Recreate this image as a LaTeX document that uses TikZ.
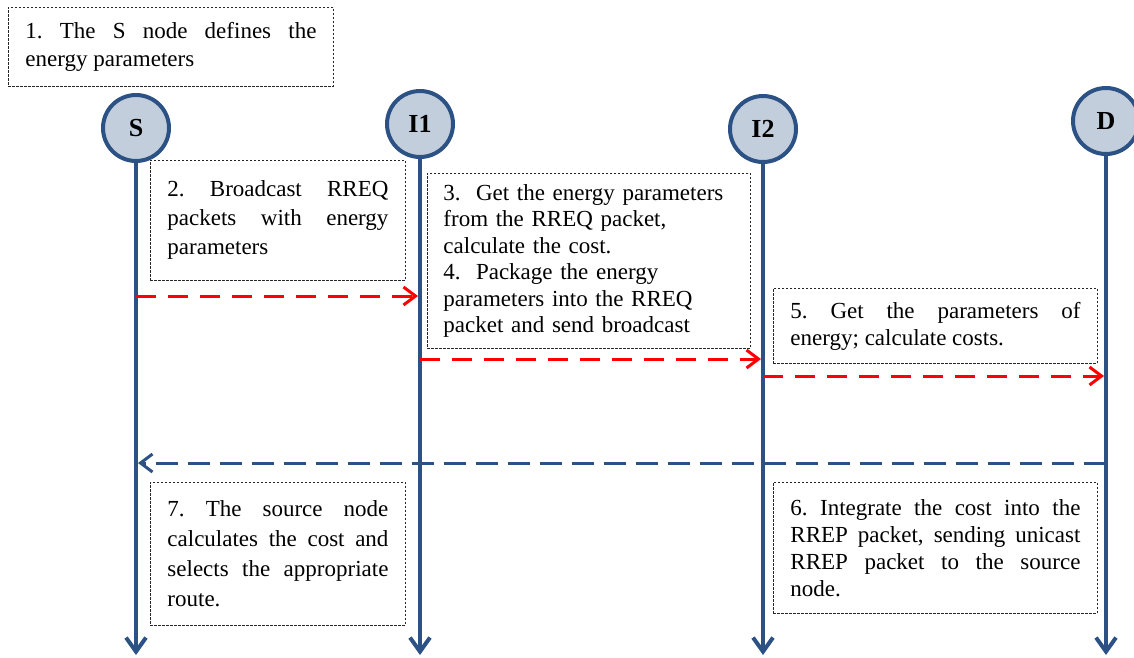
\documentclass[tikz,border=0pt]{standalone}
\usepackage{fontspec}
\setmainfont{Liberation Serif}
\usetikzlibrary{arrows.meta}
\definecolor{lifeblue}{HTML}{2B5185}
\definecolor{peerfill}{HTML}{C3CEDC}
\frenchspacing

\begin{document}
\begin{tikzpicture}[x=1pt,y=-1pt,
	peer/.style={circle,draw=lifeblue,line width=4pt,fill=peerfill,minimum size=66pt,inner sep=0pt,
		font=\fontsize{26}{30}\selectfont\bfseries},
	lifeline/.style={draw=lifeblue,line width=4pt,-{Straight Barb[length=14pt,width=20pt]}},
	note/.style={draw=black!85,line width=0.9pt,dash pattern=on 2.5pt off 1.5pt,anchor=north west,
		inner xsep=17pt,inner ysep=0pt,align=justify,font=\fontsize{23}{28}\selectfont,
		execute at begin node={\tolerance=10000\hyphenpenalty=10000}},
	rreq/.style={red,line width=3pt,dash pattern=on 20pt off 12pt,shorten >=2pt,
		-{Straight Barb[length=12pt,width=18pt]}},
	rrep/.style={lifeblue,line width=3pt,dash pattern=on 22pt off 10pt,shorten >=2pt,
		-{Straight Barb[length=12pt,width=18pt]}}]
		\useasboundingbox (0,0) rectangle (1134,657);
		% the four peers and their lifelines
		\node[peer] (S) at (136,128) {S};
		\node[peer] (I1) at (420,124) {I1};
		\node[peer] (I2) at (763,129) {I2};
		\node[peer] (D) at (1106,121) {D};
		\coordinate (bottom) at (0,655);
		\foreach \p in {S,I1,I2,D}
			\draw[lifeline] (\p.south) -- (\p |- bottom);
		% messages
		\coordinate (m1) at (0,296);
		\coordinate (m2) at (0,359);
		\coordinate (m3) at (0,376);
		\coordinate (m4) at (0,463);
		\draw[rreq] (S |- m1) -- (I1 |- m1);
		\draw[rreq] (I1 |- m2) -- (I2 |- m2);
		\draw[rreq] (I2 |- m3) -- (D |- m3);
		\draw[rrep] (D |- m4) -- (S |- m4);
		% steps
		\node[note,text width=291pt,minimum height=79pt] (step1) at (8,7)
		{1. The S node defines the\linebreak energy parameters};
		\node[note,text width=221pt,minimum height=120pt,font=\fontsize{23}{29}\selectfont] (step2) at (150,160)
		{2. Broadcast RREQ\linebreak packets with energy\linebreak parameters};
		\node[note,text width=291pt,minimum height=175pt,inner xsep=16pt,align=left,font=\fontsize{23}{26.5}\selectfont] (step3) at (427,173)
		{3.\ \ Get the energy parameters\\ from the RREQ packet,\\ calculate the cost.\\ 4.\ \ Package the energy\\ parameters into the RREQ\\ packet and send broadcast};
		\node[note,text width=290pt,minimum height=75pt,font=\fontsize{23}{27}\selectfont] (step5) at (773,288)
		{5. Get the parameters of\linebreak energy; calculate costs.};
		\node[note,text width=290pt,minimum height=131pt,font=\fontsize{23}{27}\selectfont] (step6) at (773,482)
		{6. Integrate the cost into the\linebreak RREP packet, sending unicast\linebreak RREP packet to the source\linebreak node.};
		\node[note,text width=221pt,minimum height=143pt,font=\fontsize{23}{30}\selectfont] (step7) at (150,482)
		{7. The source node\linebreak calculates the cost and\linebreak selects the appropriate\linebreak route.};
\end{tikzpicture}
\end{document}
